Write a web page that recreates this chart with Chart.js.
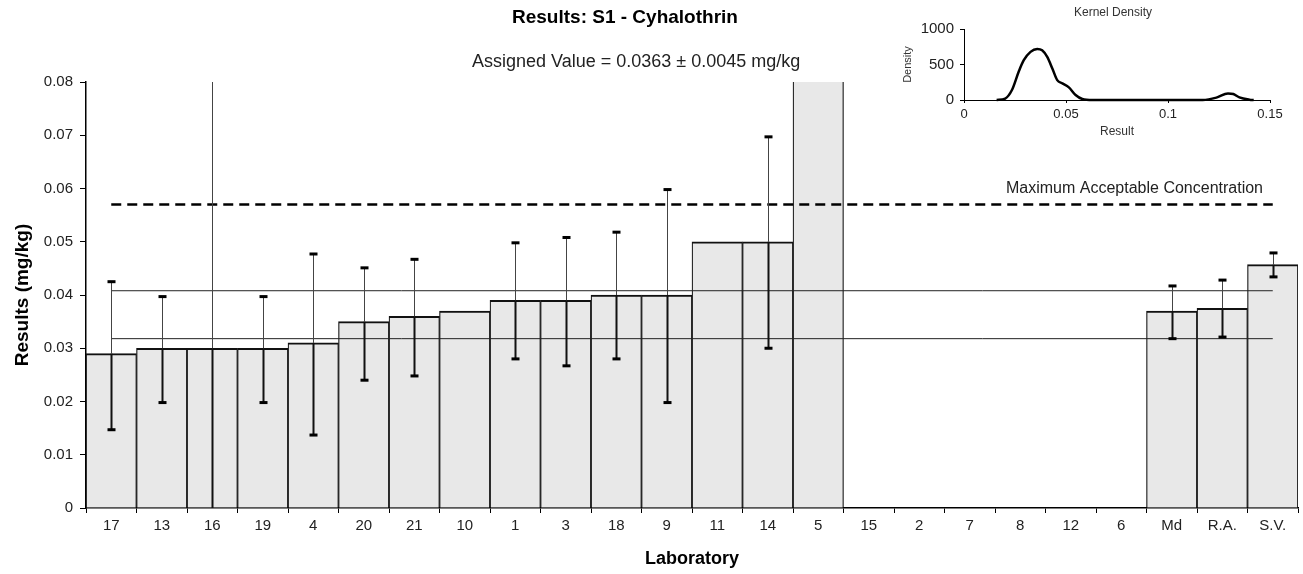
<!DOCTYPE html>
<html>
<head>
<meta charset="utf-8">
<title>Results: S1 - Cyhalothrin</title>
<script src="https://cdn.jsdelivr.net/npm/chart.js@4.4.1/dist/chart.umd.min.js"></script>
<style>
  html, body { margin: 0; padding: 0; background: #fff; }
  #wrap { position: relative; width: 1303px; height: 574px; }
  #mainChart { position: absolute; left: 0; top: 0; }
  #kdChart { position: absolute; left: 890px; top: 0; }
</style>
</head>
<body>
<div id="wrap">
  <canvas id="mainChart" width="1303" height="574"></canvas>
  <canvas id="kdChart" width="400" height="140"></canvas>
</div>
<script>
const FONT = "'Liberation Sans', Arial, sans-serif";

// 실험실별 결과 (mg/kg)
const labs = ['17', '13', '16', '19', '4', '20', '21', '10', '1', '3', '18', '9', '11', '14', '5',
              '15', '2', '7', '8', '12', '6', 'Md', 'R.A.', 'S.V.'];
const results = [0.029, 0.030, 0.030, 0.030, 0.031, 0.035, 0.036, 0.037, 0.039, 0.039, 0.040, 0.040,
                 0.050, 0.050, 0.130, null, null, null, null, null, null, 0.037, 0.0375, 0.0457];
// 불확도 구간
const errLow = [0.0147, 0.0198, -0.03, 0.0198, 0.0137, 0.0240, 0.0248, null, 0.0280, 0.0267, 0.0280, 0.0198,
                null, 0.0300, null, null, null, null, null, null, null, 0.0318, 0.0321, 0.0434];
const errHigh = [0.0425, 0.0397, 0.13, 0.0397, 0.0477, 0.0451, 0.0467, null, 0.0498, 0.0508, 0.0518, 0.0598,
                 null, 0.0697, null, null, null, null, null, null, null, 0.0417, 0.0428, 0.0479];

const assignedLow = 0.0318;
const assignedHigh = 0.0408;
const macLimit = 0.057;

// 커널 밀도 (인셋)
const kdResult = [0.016, 0.0202, 0.0235, 0.0268, 0.0293, 0.0326, 0.0359, 0.0383, 0.0408, 0.0433, 0.0457,
                  0.0482, 0.0514, 0.0547, 0.058, 0.063, 0.117, 0.1237, 0.1294, 0.132, 0.135, 0.140, 0.142];
const kdDensity = [0, 20, 140, 397, 560, 678, 718, 700, 607, 444, 280, 234, 178, 70, 14, 0, 0, 33, 93, 84, 37, 5, 0];

function hLine(from, to, value) {
    return [{ x: from, y: value }, { x: to, y: value }];
}

// 오차 막대
const errorBarPlugin = {
    id: 'errorBars',
    afterDatasetsDraw(chart) {
        const { ctx, chartArea: a, scales: { x, y } } = chart;
        ctx.save();
        ctx.beginPath();
        ctx.rect(a.left, a.top, a.right - a.left, a.bottom - a.top);
        ctx.clip();
        labs.forEach((lab, i) => {
            if (errLow[i] == null) return;
            const px = Math.round(x.getPixelForValue(i)) + 0.5;
            const pLow = y.getPixelForValue(errLow[i]);
            const pHigh = y.getPixelForValue(errHigh[i]);
            const pVal = y.getPixelForValue(results[i]);

            ctx.strokeStyle = '#111';
            ctx.lineWidth = 2;
            ctx.beginPath();
            ctx.moveTo(px, pLow);
            ctx.lineTo(px, pVal);
            ctx.stroke();

            ctx.strokeStyle = '#444';
            ctx.lineWidth = 1;
            ctx.beginPath();
            ctx.moveTo(px, pVal);
            ctx.lineTo(px, pHigh);
            ctx.stroke();

            ctx.fillStyle = '#000';
            ctx.fillRect(px - 4, pLow - 1.5, 8, 3);
            ctx.fillRect(px - 4, pHigh - 1.5, 8, 3);
        });
        ctx.restore();
    }
};

// 제목, 부제목, 기준선 라벨
const textPlugin = {
    id: 'texts',
    afterDraw(chart) {
        const { ctx, scales: { y } } = chart;
        ctx.save();
        ctx.textBaseline = 'middle';
        ctx.textAlign = 'left';
        ctx.fillStyle = '#000';
        ctx.font = `bold 19px ${FONT}`;
        ctx.fillText('Results: S1 - Cyhalothrin', 512, 18);
        ctx.fillStyle = '#222';
        ctx.font = `18px ${FONT}`;
        ctx.fillText('Assigned Value = 0.0363 \u00b1 0.0045 mg/kg', 472, 62);
        ctx.textAlign = 'right';
        ctx.font = `16px ${FONT}`;
        ctx.fillText('Maximum Acceptable Concentration', 1263, y.getPixelForValue(macLimit) - 16);
        ctx.restore();
    }
};

const first = labs[0];
const last = labs[labs.length - 1];

new Chart(document.getElementById('mainChart'), {
    type: 'bar',
    data: {
        labels: labs,
        datasets: [
            {
                type: 'line',
                data: hLine(first, last, macLimit),
                borderColor: '#000',
                borderWidth: 2.5,
                borderDash: [10, 6],
                pointRadius: 0,
                order: 1
            },
            {
                type: 'line',
                data: hLine(first, last, assignedHigh),
                borderColor: '#222',
                borderWidth: 1,
                pointRadius: 0,
                order: 1
            },
            {
                type: 'line',
                data: hLine(first, last, assignedLow),
                borderColor: '#222',
                borderWidth: 1,
                pointRadius: 0,
                order: 1
            },
            {
                type: 'bar',
                data: results,
                backgroundColor: '#e8e8e8',
                borderColor: '#111',
                borderWidth: { top: 2, left: 1.2, right: 1.2, bottom: 0 },
                borderSkipped: false,
                categoryPercentage: 1,
                barPercentage: 1,
                clip: 0,
                order: 2
            }
        ]
    },
    options: {
        responsive: false,
        animation: false,
        layout: { padding: { top: 82, right: 5, left: 0, bottom: 0 } },
        plugins: { legend: { display: false }, tooltip: { enabled: false } },
        scales: {
            x: {
                offset: true,
                grid: { offset: true, drawOnChartArea: false, tickLength: 5, color: '#000' },
                border: { color: '#000', width: 1.5 },
                ticks: { color: '#222', font: { family: FONT, size: 15 }, padding: 4, autoSkip: false, maxRotation: 0 },
                title: {
                    display: true, text: 'Laboratory', color: '#000',
                    font: { family: FONT, size: 18, weight: 'bold' },
                    padding: { top: 0, bottom: 4 }
                },
                afterFit: (s) => { s.height = 66; }
            },
            y: {
                min: 0,
                max: 0.08,
                grid: { drawOnChartArea: false, tickLength: 6, color: '#000' },
                border: { color: '#000', width: 1.5 },
                ticks: {
                    stepSize: 0.01, color: '#222', padding: 7,
                    font: { family: FONT, size: 15 },
                    callback: (v) => v === 0 ? '0' : v.toFixed(2)
                },
                title: {
                    display: true, text: 'Results (mg/kg)', color: '#000',
                    font: { family: FONT, size: 19, weight: 'bold' },
                    padding: { top: 11, bottom: 0 }
                },
                afterFit: (s) => { s.width = 86; }
            }
        }
    },
    plugins: [errorBarPlugin, textPlugin]
});

// 인셋 제목
const kdTitlePlugin = {
    id: 'kdTitle',
    afterDraw(chart) {
        const { ctx, chartArea: a } = chart;
        ctx.save();
        ctx.fillStyle = '#333';
        ctx.font = `12px ${FONT}`;
        ctx.textAlign = 'center';
        ctx.textBaseline = 'middle';
        ctx.fillText('Kernel Density', (a.left + a.right) / 2 - 4, 13);
        ctx.restore();
    }
};

new Chart(document.getElementById('kdChart'), {
    type: 'line',
    data: {
        datasets: [{
            data: kdResult.map((r, i) => ({ x: r, y: kdDensity[i] })),
            borderColor: '#000',
            borderWidth: 2.5,
            pointRadius: 0,
            cubicInterpolationMode: 'monotone',
            clip: false
        }]
    },
    options: {
        responsive: false,
        animation: false,
        layout: { padding: { top: 29, right: 20, left: 0, bottom: 0 } },
        plugins: { legend: { display: false }, tooltip: { enabled: false } },
        scales: {
            x: {
                type: 'linear',
                min: 0,
                max: 0.15,
                grid: { drawOnChartArea: false, tickLength: 3, color: '#000' },
                border: { color: '#000', width: 1 },
                ticks: {
                    stepSize: 0.05, color: '#222', padding: 4,
                    font: { family: FONT, size: 13 },
                    callback: (v) => String(+v.toFixed(2))
                },
                title: {
                    display: true, text: 'Result', color: '#333',
                    font: { family: FONT, size: 12 },
                    padding: { top: 0, bottom: 1 }
                },
                afterFit: (s) => { s.height = 40; }
            },
            y: {
                min: 0,
                max: 1000,
                grid: { drawOnChartArea: false, tickLength: 4, color: '#000' },
                border: { color: '#000', width: 1 },
                ticks: {
                    stepSize: 500, color: '#222', padding: 6,
                    font: { family: FONT, size: 15 },
                    callback: (v) => String(v)
                },
                title: {
                    display: true, text: 'Density', color: '#333',
                    font: { family: FONT, size: 11 },
                    padding: { top: 11, bottom: 0 }
                },
                afterFit: (s) => { s.width = 74; }
            }
        }
    },
    plugins: [kdTitlePlugin]
});
</script>
</body>
</html>
